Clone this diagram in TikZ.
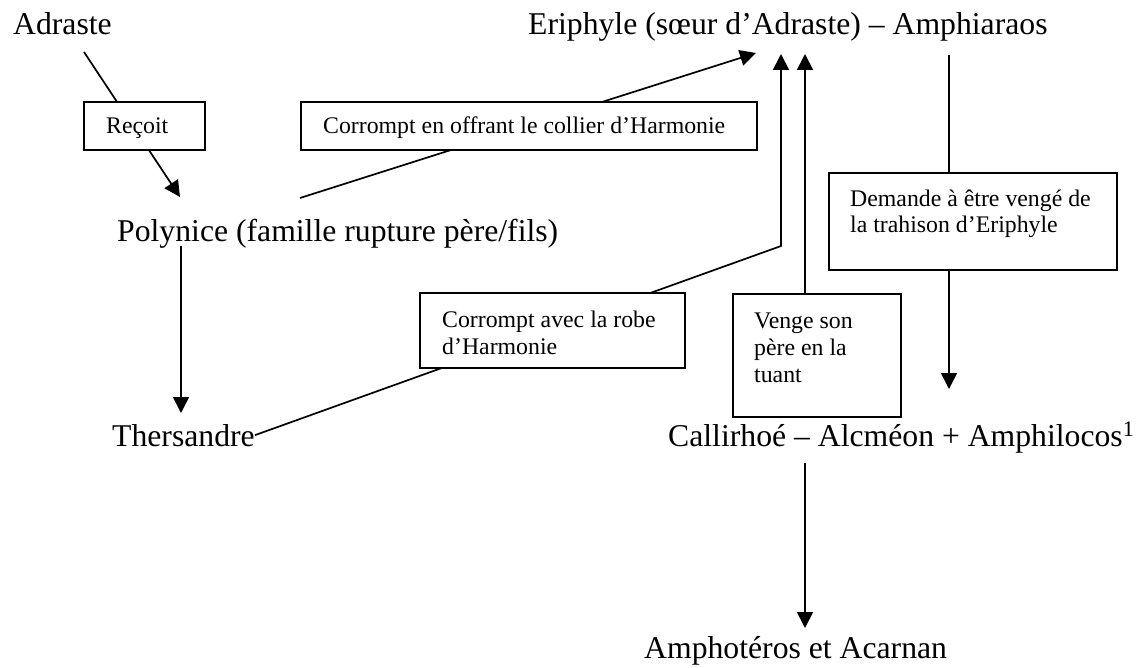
\documentclass[tikz,border=0pt]{standalone}
\usepackage{fontspec}
\setmainfont{Liberation Serif}
\usetikzlibrary{arrows.meta,backgrounds}
\begin{document}
\begin{tikzpicture}[x=1pt,y=-1pt,
  big/.style={font=\fontsize{31.7}{38}\selectfont, inner sep=0pt, anchor=base west},
  small/.style={font=\fontsize{23.8}{26.8}\selectfont, inner sep=0pt, anchor=base west, align=left},
  boxst/.style={draw, line width=1.7pt, fill=white, inner sep=0pt},
  conn/.style={line width=1.7pt},
  arr/.style={conn, -{Triangle[width=16pt,length=16pt]}}]
\useasboundingbox (0,0) rectangle (1143,668);

% main texts
\node[big] (adraste) at (13,35) {Adraste};
\node[big] (eriphyle) at (528,35) {Eriphyle (sœur d’Adraste) – Amphiaraos};
\node[big] (polynice) at (117,242) {Polynice (famille rupture père/fils)};
\node[big] (thersandre) at (112,446) {Thersandre};
\node[big] (callirhoe) at (668,446) {Callirhoé – Alcméon + Amphilocos\textsuperscript{1}};
\node[big] (amphoteros) at (644,658) {Amphotéros et Acarnan};

% label boxes
\node[boxst, minimum width=121pt, minimum height=48pt] (recoitbox) at (144.5,126) {};
\node[boxst, minimum width=456pt, minimum height=48pt] (collierbox) at (529,126) {};
\node[boxst, minimum width=288pt, minimum height=97pt] (demandebox) at (973,221.5) {};
\node[boxst, minimum width=265pt, minimum height=75pt] (robebox) at (552.5,330.5) {};
\node[boxst, minimum width=168pt, minimum height=123pt] (vengebox) at (817,355.5) {};

% box texts (base anchor = baseline of the last line)
\node[small] (recoit) at (106,134) {Reçoit};
\node[small] (collier) at (323,134) {Corrompt en offrant le collier d’Harmonie};
\node[small] (demande) at (850,233) {Demande à être vengé de\\la trahison d’Eriphyle};
\node[small] (robe) at (442,354) {Corrompt avec la robe\\d’Harmonie};
\node[small] (venge) at (754,382) {Venge son\\père en la\\tuant};

% connector end points
\coordinate (a1s) at (84,52);
\coordinate (a1e) at (180,197);
\coordinate (a2s) at (300,198);
\coordinate (a2e) at (756,53);
\coordinate (a3k) at (781,246);
\coordinate (a3e) at (781,54);
\coordinate (a4s) at (805,294);
\coordinate (a4e) at (805,54);
\coordinate (a5s) at (949,55);
\coordinate (a5e) at (949,389);
\coordinate (a6s) at (181,246);
\coordinate (a6e) at (181,413);
\coordinate (a7s) at (805,463);
\coordinate (a7e) at (805,628);

\begin{pgfonlayer}{background}
\draw[arr] (a1s) -- (a1e);
\draw[arr] (a2s) -- (a2e);
\draw[arr] (thersandre.east) -- (a3k) -- (a3e);
\draw[arr] (a4s) -- (a4e);
\draw[arr] (a5s) -- (a5e);
\draw[arr] (a6s) -- (a6e);
\draw[arr] (a7s) -- (a7e);
\end{pgfonlayer}
\end{tikzpicture}
\end{document}
